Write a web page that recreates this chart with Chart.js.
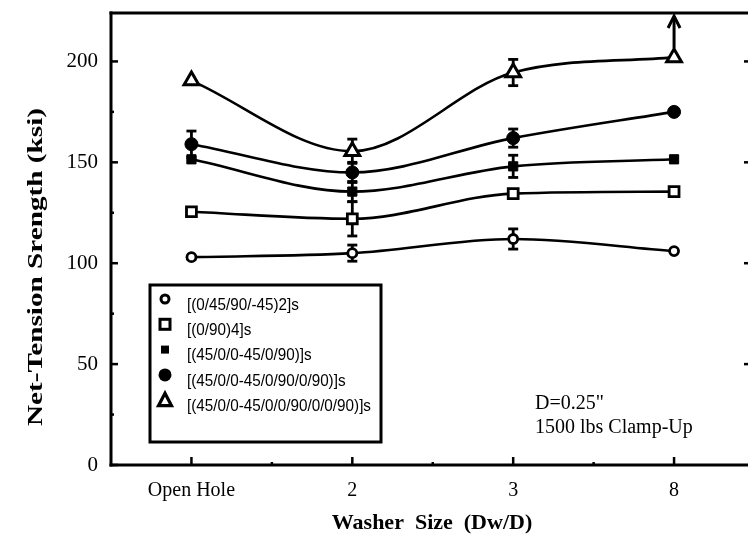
<!DOCTYPE html>
<html><head><meta charset="utf-8">
<script src="https://cdn.jsdelivr.net/npm/chart.js@4/dist/chart.umd.min.js"></script>
<style>
html,body{margin:0;padding:0;background:#fff;overflow:hidden;width:748px;height:542px}
#wrap{position:relative;width:766px;height:542px}
</style></head>
<body><div id="wrap"><canvas id="c" width="766" height="542"></canvas></div>
<script>
// ---------- data ----------
const categories = ['Open Hole', '2', '3', '8'];
const seriesLabels = ['[(0/45/90/-45)2]s', '[(0/90)4]s', '[(45/0/0-45/0/90)]s', '[(45/0/0-45/0/90/0/90)]s', '[(45/0/0-45/0/0/90/0/0/90)]s'];
const quasiIso = [103, 105, 112, 106];
const crossPly = [125.5, 122, 134.5, 135.5];
const layupA = [151.5, 135.5, 148, 151.5];
const layupB = [159, 145, 162, 175];
const layupC = [190.5, 155.5, 194.5, 202];
const quasiIsoErr = [null, 4, 5, null];
const crossPlyErr = [null, 8.5, null, null];
const layupAErr = [null, 5, 5.5, null];
const layupBErr = [6.5, 5, 4.5, null];
const layupCErr = [null, 6, 6.5, null];
const yTicks = [0, 50, 100, 150, 200];
const yMinorTicks = [25, 75, 125, 175];
const xMinorTicks = [0.5, 1.5, 2.5];
const xTitle = 'Washer  Size  (Dw/D)';
const yTitle = 'Net-Tension Srength (ksi)';
const noteLines = ['D=0.25"', '1500 lbs Clamp-Up'];

const seriesValues = [quasiIso, crossPly, layupA, layupB, layupC];
const seriesErrors = [quasiIsoErr, crossPlyErr, layupAErr, layupBErr, layupCErr];
const styles = [
  {pointStyle: 'circle', radius: 4.5, bg: '#fff', bw: 2.8},
  {pointStyle: 'rect', radius: 7, bg: '#fff', bw: 2.8},
  {pointStyle: 'rect', radius: 6.5, bg: '#000', bw: 1},
  {pointStyle: 'circle', radius: 6.5, bg: '#000', bw: 1},
  {pointStyle: 'triangle', radius: 8.5, bg: '#fff', bw: 3}
];

const datasets = seriesValues.map((vals, si) => ({
  label: seriesLabels[si],
  data: vals.map((v, i) => ({x: i, y: v})),
  borderColor: '#000',
  borderWidth: 2.6,
  cubicInterpolationMode: 'monotone',
  pointStyle: styles[si].pointStyle,
  pointRadius: styles[si].radius,
  pointBackgroundColor: styles[si].bg,
  pointBorderColor: '#000',
  pointBorderWidth: styles[si].bw,
  fill: false
}));

function drawMarker(ctx, kind, x, y) {
  ctx.save();
  ctx.strokeStyle = '#000'; ctx.fillStyle = '#000';
  ctx.lineWidth = 3;
  if (kind === 0) { ctx.beginPath(); ctx.arc(x, y, 4, 0, Math.PI * 2); ctx.fillStyle = '#fff'; ctx.fill(); ctx.stroke(); }
  else if (kind === 1) { ctx.fillStyle = '#fff'; ctx.fillRect(x - 5, y - 5, 10, 10); ctx.strokeRect(x - 5, y - 5, 10, 10); }
  else if (kind === 2) { ctx.fillRect(x - 4, y - 4, 8, 8); }
  else if (kind === 3) { ctx.beginPath(); ctx.arc(x, y, 6.5, 0, Math.PI * 2); ctx.fill(); }
  else { ctx.beginPath(); ctx.moveTo(x, y - 7); ctx.lineTo(x + 6.5, y + 5.5); ctx.lineTo(x - 6.5, y + 5.5); ctx.closePath(); ctx.fillStyle = '#fff'; ctx.fill(); ctx.lineWidth = 3.2; ctx.stroke(); }
  ctx.restore();
}

function seg(ctx, x1, y1, x2, y2) { ctx.beginPath(); ctx.moveTo(x1, y1); ctx.lineTo(x2, y2); ctx.stroke(); }

const deco = {
  id: 'deco',
  beforeDatasetsDraw(chart) {
    const {ctx, scales: {x, y}} = chart;
    ctx.save();
    ctx.strokeStyle = '#000'; ctx.lineWidth = 2.8; ctx.lineCap = 'butt';
    seriesErrors.forEach((errs, si) => {
      errs.forEach((e, i) => {
        if (e == null) return;
        const v = seriesValues[si][i];
        const px = x.getPixelForValue(i);
        const y1 = y.getPixelForValue(v + e), y2 = y.getPixelForValue(v - e);
        seg(ctx, px, y1, px, y2);
        seg(ctx, px - 5, y1, px + 5, y1);
        seg(ctx, px - 5, y2, px + 5, y2);
      });
    });
    ctx.restore();
  },
  afterDraw(chart) {
    const {ctx, chartArea: a, scales: {x, y}} = chart;
    ctx.save();
    ctx.strokeStyle = '#000'; ctx.fillStyle = '#000';
    // frame
    ctx.lineWidth = 3; ctx.lineCap = 'square';
    seg(ctx, a.left, a.top, a.left, a.bottom);
    seg(ctx, a.left, a.bottom, a.right, a.bottom);
    seg(ctx, a.left, a.top, a.right, a.top);
    seg(ctx, a.right, a.top, a.right, a.bottom);
    ctx.lineCap = 'butt';
    // ticks
    ctx.lineWidth = 2.5;
    yTicks.forEach(t => { const py = y.getPixelForValue(t); seg(ctx, a.left, py, a.left + 7, py); if (t > 0) seg(ctx, 744, py, a.right, py); });
    yMinorTicks.forEach(t => { const py = y.getPixelForValue(t); seg(ctx, a.left, py, a.left + 3, py); });
    categories.forEach((c, i) => { const px = x.getPixelForValue(i); seg(ctx, px, a.bottom, px, a.bottom - 8); });
    xMinorTicks.forEach(t => { const px = x.getPixelForValue(t); seg(ctx, px, a.bottom, px, a.bottom - 3); });
    // arrow on last triangle point
    const ax = x.getPixelForValue(3);
    const ay = y.getPixelForValue(layupC[3]);
    ctx.lineWidth = 3;
    seg(ctx, ax, ay - 9, ax, a.top + 4);
    ctx.beginPath(); ctx.moveTo(ax - 6, a.top + 15); ctx.lineTo(ax, a.top + 3); ctx.lineTo(ax + 6, a.top + 15); ctx.stroke();
    // legend
    const L = {x: 150, y: 285, w: 231, h: 157};
    ctx.fillStyle = '#fff'; ctx.fillRect(L.x, L.y, L.w, L.h);
    ctx.lineWidth = 3; ctx.strokeRect(L.x, L.y, L.w, L.h);
    ctx.fillStyle = '#000';
    ctx.font = '17px "Liberation Sans", Arial, sans-serif';
    ctx.textBaseline = 'middle'; ctx.textAlign = 'left';
    const longest = ctx.measureText(seriesLabels[4]).width;
    const sx = longest > 0 ? 184 / longest : 1;
    seriesLabels.forEach((lab, i) => {
      const ry = 299 + i * 25.3;
      drawMarker(ctx, i, 165, ry);
      ctx.save();
      ctx.translate(187, ry + 6);
      ctx.scale(sx, 1);
      ctx.fillText(lab, 0, 0);
      ctx.restore();
    });
    // note
    ctx.font = '20px "Liberation Serif", "Times New Roman", serif';
    ctx.fillText(noteLines[0], 535, 404);
    ctx.fillText(noteLines[1], 535, 428);
    // axis titles
    ctx.font = 'bold 22px "Liberation Serif", "Times New Roman", serif';
    ctx.textAlign = 'center';
    ctx.fillText(xTitle, 432, 523);
    ctx.save();
    ctx.translate(36, 267);
    ctx.rotate(-Math.PI / 2);
    const tw = ctx.measureText(yTitle).width;
    ctx.scale(318 / tw, 1);
    ctx.fillText(yTitle, 0, 0);
    ctx.restore();
    ctx.restore();
  }
};

new Chart(document.getElementById('c'), {
  type: 'line',
  data: {datasets},
  plugins: [deco],
  options: {
    responsive: false,
    animation: false,
    devicePixelRatio: 1,
    layout: {padding: {top: 13, right: 7, left: 0, bottom: 0}},
    plugins: {legend: {display: false}, tooltip: {enabled: false}},
    scales: {
      x: {
        type: 'linear', min: -0.5, max: 3.5,
        grid: {display: false, drawTicks: false},
        border: {display: false},
        afterBuildTicks: s => { s.ticks = categories.map((c, i) => ({value: i})); },
        afterFit: s => { s.height = 77; s.paddingLeft = 0; s.paddingRight = 0; },
        ticks: {
          padding: 14, color: '#000', maxRotation: 0, autoSkip: false,
          font: {family: '"Liberation Serif", "Times New Roman", serif', size: 20},
          callback: v => categories[v]
        }
      },
      y: {
        type: 'linear', min: 0, max: 224,
        grid: {display: false, drawTicks: false},
        border: {display: false},
        afterBuildTicks: s => { s.ticks = yTicks.map(v => ({value: v})); },
        afterFit: s => { s.width = 111; s.paddingTop = 0; s.paddingBottom = 0; },
        ticks: {
          padding: 13, color: '#000',
          font: {family: '"Liberation Serif", "Times New Roman", serif', size: 21}
        }
      }
    }
  }
});
</script>
</body></html>
